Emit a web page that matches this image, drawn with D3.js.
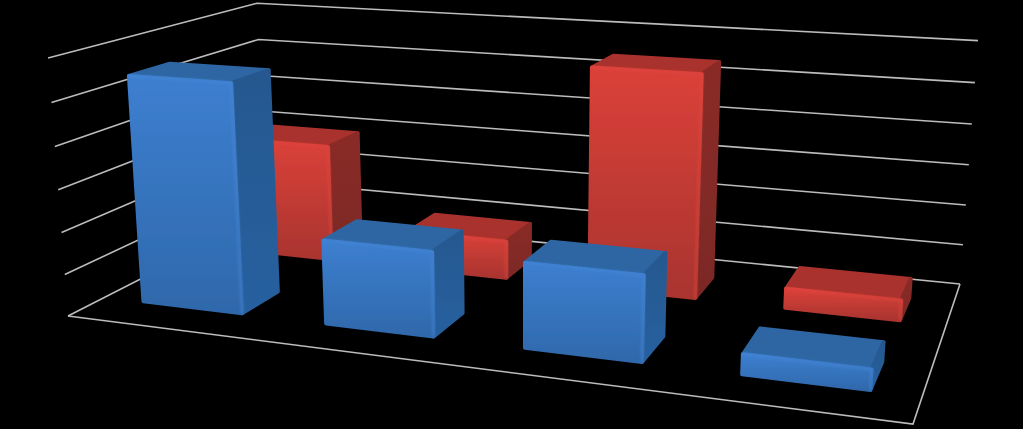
<!DOCTYPE html>
<html>
<head>
<meta charset="utf-8">
<style>
  html, body { margin: 0; padding: 0; background: #000; }
  svg { display: block; }
</style>
<script src="https://cdn.jsdelivr.net/npm/d3@7"></script>
</head>
<body>
<svg id="chart" width="1023" height="429"></svg>
<script>
const categories = ['Category 1', 'Category 2', 'Category 3', 'Category 4'];
const seriesNames = ['Series 1', 'Series 2'];
const blueValues = [5.4, 1.96, 1.93, 0.44];
const redValues = [2.95, 0.93, 5.4, 0.47];
const valueTicks = [0, 1, 2, 3, 4, 5, 6];

const svg = d3.select('#chart');

// unit square -> quad, corners in order (0,0) (1,0) (1,1) (0,1)
function homography([p0, p1, p2, p3]) {
  const dx1 = p1[0] - p2[0], dx2 = p3[0] - p2[0], sx = p0[0] - p1[0] + p2[0] - p3[0];
  const dy1 = p1[1] - p2[1], dy2 = p3[1] - p2[1], sy = p0[1] - p1[1] + p2[1] - p3[1];
  const den = dx1 * dy2 - dx2 * dy1;
  const g = (sx * dy2 - dx2 * sy) / den;
  const h = (dx1 * sy - sx * dy1) / den;
  const a = p1[0] - p0[0] + g * p1[0];
  const b = p3[0] - p0[0] + h * p3[0];
  const d = p1[1] - p0[1] + g * p1[1];
  const e = p3[1] - p0[1] + h * p3[1];
  return (u, v) => [a * u + b * v + p0[0], d * u + e * v + p0[1], g * u + h * v + 1];
}

const floorAt = homography([[68, 316], [913, 424], [960, 284], [266, 215]]);
const vanish = [523, 6200];
const lift = -0.042;

const uScale = d3.scaleBand().domain(categories).range([0, 1]).paddingInner(0.45).paddingOuter(0.215);
const vScale = d3.scaleBand().domain(seriesNames).range([0, 1]).paddingInner(0.625).paddingOuter(0.33);
const zScale = d3.scaleLinear().domain([0, 6]).range([0, 1]);

function project(u, v, value) {
  const [x, y, w] = floorAt(u, v);
  const k = lift * zScale(value);
  return [(x + k * vanish[0]) / (w + k), (y + k * vanish[1]) / (w + k)];
}

const line = d3.line();
const closed = d3.line().curve(d3.curveLinearClosed);

const defs = svg.append('defs');
defs.append('filter').attr('id', 'soft').attr('x', '-5%').attr('y', '-5%').attr('width', '110%').attr('height', '110%')
  .append('feGaussianBlur').attr('stdDeviation', 0.6);
defs.append('filter').attr('id', 'bevel').attr('x', '-20%').attr('y', '-20%').attr('width', '140%').attr('height', '140%')
  .append('feGaussianBlur').attr('stdDeviation', 1.3);

function gradient(id, top, bottom) {
  const g = defs.append('linearGradient').attr('id', id).attr('x1', 0).attr('y1', 0).attr('x2', 0).attr('y2', 1);
  g.append('stop').attr('offset', 0).attr('stop-color', top);
  g.append('stop').attr('offset', 1).attr('stop-color', bottom);
}
gradient('blueFront', '#3d7fd0', '#2f68ab');
gradient('blueSide', '#27588f', '#28609f');
gradient('redFront', '#db4139', '#a9342f');
gradient('redSide', '#8a2c28', '#7c2825');

const palette = {
  'Series 1': { front: 'url(#blueFront)', side: 'url(#blueSide)', top: '#2e66a4', edge: '#4488d8' },
  'Series 2': { front: 'url(#redFront)', side: 'url(#redSide)', top: '#a9322d', edge: '#e0463e' },
};

// grid
const grid = svg.append('g').attr('fill', 'none').attr('stroke', '#bcbcbc').attr('stroke-width', 1.6).attr('filter', 'url(#soft)');
for (const tick of valueTicks) {
  grid.append('path').attr('d', line([project(0, 0, tick), project(0, 1, tick), project(1, 1, tick)]));
}
grid.append('path').attr('d', line([project(0, 0, 0), project(1, 0, 0), project(1, 1, 0)]));

const bars = svg.append('g').attr('filter', 'url(#soft)');

function drawBar(category, seriesName, value) {
  const u0 = uScale(category), u1 = u0 + uScale.bandwidth();
  const v0 = vScale(seriesName), v1 = v0 + vScale.bandwidth();
  const c = palette[seriesName];
  const g = bars.append('g').attr('stroke-linejoin', 'round');
  const face = (points, fill) => g.append('path')
    .attr('d', closed(points)).attr('fill', fill).attr('stroke', fill).attr('stroke-width', 4);

  const fbl = project(u0, v0, 0), fbr = project(u1, v0, 0), bbr = project(u1, v1, 0);
  const ftl = project(u0, v0, value), ftr = project(u1, v0, value);
  const btr = project(u1, v1, value), btl = project(u0, v1, value);

  face([ftl, ftr, btr, btl], c.top);
  face([fbr, bbr, btr, ftr], c.side);
  face([fbl, fbr, ftr, ftl], c.front);
  // bevel highlight along the front top and the front right edge
  g.append('path').attr('d', line([ftl, ftr, fbr])).attr('fill', 'none')
    .attr('stroke', c.edge).attr('stroke-width', 3).attr('stroke-opacity', 0.45).attr('filter', 'url(#bevel)');
}

categories.forEach((category, i) => drawBar(category, 'Series 2', redValues[i]));
categories.forEach((category, i) => drawBar(category, 'Series 1', blueValues[i]));
</script>
</body>
</html>
